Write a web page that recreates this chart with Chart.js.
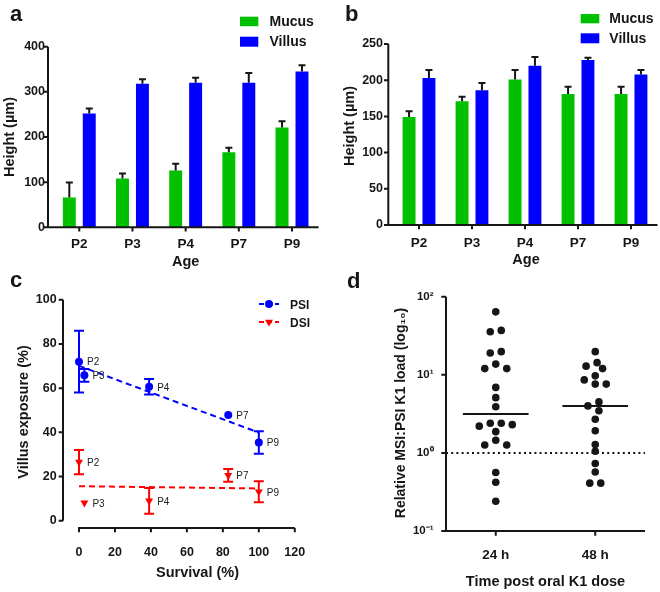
<!DOCTYPE html>
<html><head><meta charset="utf-8">
<script src="https://cdn.jsdelivr.net/npm/chart.js@4.4.1/dist/chart.umd.min.js"></script>
<style>
html,body{margin:0;padding:0;background:#fff;}
#wrap{position:relative;width:660px;height:592px;background:#fff;overflow:hidden;}
canvas{position:absolute;}
</style></head><body>
<div id="wrap">
<canvas id="ca" width="330" height="270" style="left:0;top:0"></canvas>
<canvas id="cb" width="330" height="270" style="left:330px;top:0"></canvas>
<canvas id="cc" width="330" height="322" style="left:0;top:270px"></canvas>
<canvas id="cd" width="330" height="322" style="left:330px;top:270px"></canvas>
</div>
<script>
// ---------------- data ----------------
const ages = ['P2','P3','P4','P7','P9'];
// panel a
const aMucus = [66,108,126,166,221];
const aMucusErr = [33,11,15,10,14];
const aVillus = [252,318,320,320,345];
const aVillusErr = [11,10,11,22,14];
// panel b
const bMucus = [149,171,201,181,181];
const bMucusErr = [8,6,13,10,10];
const bVillus = [203,186,220,228,208];
const bVillusErr = [11,10,12,3,6];
// panel c
const survival = [0,3,39,83,100];
const psiExposure = [72,65.8,60.6,47.8,35.4];
const psiErr = [14,2.9,3.5,0,5.1];
const dsiExposure = [26.5,8.1,9,20.5,13.1];
const dsiErr = [5.5,0,5.8,2.9,4.75];
const fitX = [0,100];
const psiFit = [70.1,39.9];
const dsiFit = [15.6,14.6];
// panel d
const timepoints = ['24 h','48 h'];
const load24 = [64,37,35.6,19.8,19,13.7,12,12,6.9,5.1,3.9,2.4,2.4,2.3,2.2,1.87,1.45,1.26,1.26,0.56,0.42,0.24];
const load48 = [19.8,14.3,12.9,12,9.7,8.6,7.6,7.6,4.5,4.0,3.47,2.7,1.92,1.28,1.05,0.73,0.57,0.41,0.41];
const refLoad = 1;
const yTicksD = [0.1,1,10,100];

// ---------------- styling ----------------
const FF = '"Liberation Sans", Arial, Helvetica, sans-serif';
const GREEN = '#00c000', BLUE = '#0000ff', RED = '#ff0000', INK = '#161616';
Chart.defaults.font.family = FF;
Chart.defaults.color = INK;
Chart.defaults.animation = false;

function bold(px){ return {family:FF, size:px, weight:'bold'}; }

// ---------------- plugins ----------------
const gpAxes = {
  id:'gpAxes',
  afterDraw(chart, args, o){
    if(!o || !o.on) return;
    const {ctx, chartArea:a} = chart;
    const xs = chart.scales.x, ys = chart.scales.y;
    const lx = a.left - (o.yGap||0);
    const by = a.bottom + (o.xGap||0);
    const t = o.tick||4;
    ctx.save();
    ctx.strokeStyle = INK; ctx.lineWidth = 2; ctx.lineCap = 'butt';
    ctx.beginPath();
    ctx.moveTo(lx, a.top); ctx.lineTo(lx, o.xGap ? a.bottom : by + 1);
    ctx.moveTo(o.xGap ? a.left - 1 : lx - 1, by); ctx.lineTo(a.right, by);
    ys.ticks.forEach(tk => { const p = ys.getPixelForValue(tk.value); ctx.moveTo(lx - t, p); ctx.lineTo(lx, p); });
    xs.ticks.forEach((tk,i) => { const p = xs.getPixelForTick(i); ctx.moveTo(p, by); ctx.lineTo(p, by + t); });
    ctx.stroke();
    ctx.restore();
  }
};

function drawErrors(chart, behind){
  const ctx = chart.ctx;
  chart.data.datasets.forEach((ds,i) => {
    if(!ds.errors || !!ds.errorBehind !== behind) return;
    const meta = chart.getDatasetMeta(i);
    const ys = chart.scales[meta.yAxisID];
    ctx.save();
    ctx.strokeStyle = ds.errorColor || INK;
    ctx.lineWidth = 2; ctx.lineCap = 'butt';
    meta.data.forEach((el,j) => {
      const e = ds.errors[j]; if(!e) return;
      const d = ds.data[j]; const v = (typeof d === 'object') ? d.y : d;
      const x = el.x, cw = ds.capWidth/2;
      const top = ys.getPixelForValue(v + e);
      const bot = ds.errorUpOnly ? el.y : ys.getPixelForValue(v - e);
      ctx.beginPath();
      ctx.moveTo(x, bot); ctx.lineTo(x, top);
      ctx.moveTo(x - cw, top); ctx.lineTo(x + cw, top);
      if(!ds.errorUpOnly){ ctx.moveTo(x - cw, bot); ctx.lineTo(x + cw, bot); }
      ctx.stroke();
    });
    ctx.restore();
  });
}
const errorBars = {
  id:'errorBars',
  beforeDatasetsDraw(chart){ drawErrors(chart, true); },
  afterDatasetsDraw(chart){ drawErrors(chart, false); }
};

const pointLabels = {
  id:'pointLabels',
  afterDatasetsDraw(chart){
    const ctx = chart.ctx;
    chart.data.datasets.forEach((ds,i) => {
      if(!ds.pointLabels) return;
      const meta = chart.getDatasetMeta(i);
      ctx.save();
      ctx.font = '10px ' + FF; ctx.fillStyle = '#222';
      ctx.textAlign = 'left'; ctx.textBaseline = 'middle';
      meta.data.forEach((el,j) => ctx.fillText(ds.pointLabels[j], el.x + 8, el.y + 1));
      ctx.restore();
    });
  }
};

function marker(ctx, kind, x, y, r, color){
  ctx.save(); ctx.fillStyle = color; ctx.beginPath();
  if(kind === 'circle'){ ctx.arc(x, y, r, 0, Math.PI*2); }
  else { const s = Math.sin(Math.PI/3)*r; ctx.moveTo(x, y + r); ctx.lineTo(x - s, y - r/2); ctx.lineTo(x + s, y - r/2); ctx.closePath(); }
  ctx.fill(); ctx.restore();
}

const deco = {
  id:'deco',
  afterDraw(chart, args, o){
    if(!o || !o.items) return;
    const ctx = chart.ctx;
    o.items.forEach(it => {
      ctx.save();
      if(it.t === 'text'){
        ctx.font = (it.weight||'bold') + ' ' + it.size + 'px ' + FF;
        ctx.fillStyle = it.color || INK;
        ctx.textAlign = it.align || 'left';
        ctx.textBaseline = it.baseline || 'alphabetic';
        ctx.translate(it.x, it.y);
        if(it.rot) ctx.rotate(it.rot);
        ctx.fillText(it.text, 0, 0);
      } else if(it.t === 'rect'){
        ctx.fillStyle = it.color; ctx.fillRect(it.x, it.y, it.w, it.h);
      } else if(it.t === 'legline'){
        ctx.strokeStyle = it.color; ctx.lineWidth = 2; ctx.setLineDash(it.dash || []);
        ctx.beginPath(); ctx.moveTo(it.x1, it.y); ctx.lineTo(it.x2, it.y); ctx.stroke();
        marker(ctx, it.marker, (it.x1 + it.x2)/2, it.y, it.r, it.color);
      }
      ctx.restore();
    });
  }
};
Chart.register(gpAxes, errorBars, pointLabels, deco);

function fixW(w){ return s => { s.width = w; }; }
function fixH(h){ return s => { s.height = h; }; }

// ---------------- panels a & b ----------------
function barPanel(id, mucus, mucusErr, villus, villusErr, ymax, step, L){
  return new Chart(document.getElementById(id), {
    type:'bar',
    data:{ labels: ages, datasets:[
      {label:'Mucus', data:mucus, backgroundColor:GREEN, errors:mucusErr, errorUpOnly:true, capWidth:7},
      {label:'Villus', data:villus, backgroundColor:BLUE, errors:villusErr, errorUpOnly:true, capWidth:7}
    ]},
    options:{
      responsive:false, devicePixelRatio:1,
      layout:{padding:{left:0, top:L.top, right:L.right, bottom:0}},
      datasets:{bar:{barPercentage:0.65, categoryPercentage:0.75}},
      plugins:{
        legend:{display:false}, tooltip:{enabled:false},
        gpAxes:{on:true, yGap:L.gap, xGap:0, tick:4.3},
        deco:{items:L.deco}
      },
      scales:{
        x:{ grid:{display:false, drawTicks:false}, border:{display:false},
            ticks:{font:bold(13.5), padding:L.xPad, color:INK}, afterFit:fixH(L.xH) },
        y:{ min:0, max:ymax, grid:{display:false, drawTicks:false}, border:{display:false},
            ticks:{stepSize:step, font:bold(12.5), padding:L.yPad, color:INK}, afterFit:fixW(L.yW) }
      }
    }
  });
}

barPanel('ca', aMucus, aMucusErr, aVillus, aVillusErr, 400, 100, {
  top:46.7, right:11.4, gap:4.7, yW:52.7, xH:42.7, xPad:9.3, yPad:7.7,
  deco:[
    {t:'text', text:'a', x:10, y:20.5, size:22},
    {t:'rect', x:240, y:16.7, w:18.3, h:9.5, color:GREEN},
    {t:'text', text:'Mucus', x:269.5, y:25.7, size:14},
    {t:'rect', x:240, y:36.7, w:18.3, h:10, color:BLUE},
    {t:'text', text:'Villus', x:269.5, y:45.7, size:14},
    {t:'text', text:'Height (µm)', x:9.7, y:137, size:14.5, align:'center', baseline:'middle', rot:-Math.PI/2},
    {t:'text', text:'Age', x:185.6, y:261.5, size:14.5, align:'center', baseline:'middle'}
  ]
});

barPanel('cb', bMucus, bMucusErr, bVillus, bVillusErr, 250, 50, {
  top:44, right:2.5, gap:4.2, yW:62.5, xH:45, xPad:10.6, yPad:9.5,
  deco:[
    {t:'text', text:'b', x:15, y:20.7, size:22},
    {t:'rect', x:250.7, y:14, w:18.6, h:9.3, color:GREEN},
    {t:'text', text:'Mucus', x:279.3, y:22.7, size:14},
    {t:'rect', x:250.7, y:33.3, w:18.6, h:10, color:BLUE},
    {t:'text', text:'Villus', x:279.3, y:42.7, size:14},
    {t:'text', text:'Height (µm)', x:20, y:126, size:14.5, align:'center', baseline:'middle', rot:-Math.PI/2},
    {t:'text', text:'Age', x:196, y:259.7, size:14.5, align:'center', baseline:'middle'}
  ]
});

// ---------------- panel c ----------------
new Chart(document.getElementById('cc'), {
  type:'scatter',
  data:{ datasets:[
    {label:'PSI', data:survival.map((x,i)=>({x, y:psiExposure[i]})), backgroundColor:BLUE, borderColor:BLUE,
     pointStyle:'circle', pointRadius:4, pointBorderWidth:0, errors:psiErr, errorColor:BLUE, errorBehind:true, capWidth:10, pointLabels:ages, clip:false},
    {label:'DSI', data:survival.map((x,i)=>({x, y:dsiExposure[i]})), backgroundColor:RED, borderColor:RED,
     pointStyle:'triangle', rotation:180, pointRadius:4.6, pointBorderWidth:0, errors:dsiErr, errorColor:RED, errorBehind:true, capWidth:10, pointLabels:ages, clip:false},
    {type:'line', label:'PSI fit', data:fitX.map((x,i)=>({x, y:psiFit[i]})), borderColor:BLUE, borderWidth:2, borderDash:[6,4], pointRadius:0, clip:false},
    {type:'line', label:'DSI fit', data:fitX.map((x,i)=>({x, y:dsiFit[i]})), borderColor:RED, borderWidth:2, borderDash:[6,4], pointRadius:0, clip:false}
  ]},
  options:{
    responsive:false, devicePixelRatio:1,
    layout:{padding:{left:0, top:29, right:14, bottom:0}},
    plugins:{
      legend:{display:false}, tooltip:{enabled:false},
      gpAxes:{on:true, yGap:16, xGap:7.3, tick:4.3},
      deco:{items:[
        {t:'text', text:'c', x:10, y:17, size:22},
        {t:'legline', x1:259, x2:279, y:34, color:BLUE, dash:[5,3], marker:'circle', r:4},
        {t:'text', text:'PSI', x:290, y:38.5, size:12},
        {t:'legline', x1:259, x2:279, y:52, color:RED, dash:[5,3], marker:'triangle', r:4.6},
        {t:'text', text:'DSI', x:290, y:56.5, size:12},
        {t:'text', text:'Villus exposure (%)', x:24, y:142, size:14.5, align:'center', baseline:'middle', rot:-Math.PI/2},
        {t:'text', text:'Survival (%)', x:197.5, y:303, size:14.5, align:'center', baseline:'middle'}
      ]}
    },
    scales:{
      x:{ type:'linear', min:0, max:120, grid:{display:false, drawTicks:false}, border:{display:false},
          ticks:{stepSize:20, font:bold(12.5), padding:24.8, color:INK}, afterFit:fixH(71.3) },
      y:{ min:0, max:100, grid:{display:false, drawTicks:false}, border:{display:false},
          ticks:{stepSize:20, font:bold(12.5), padding:22.3, color:INK}, afterFit:fixW(79) }
    }
  }
});

// ---------------- panel d ----------------
function median(arr){ const s=[...arr].sort((a,b)=>a-b); const n=s.length; return n%2 ? s[(n-1)/2] : (s[n/2-1]+s[n/2])/2; }
// beeswarm placement (pixel-space collision avoidance), converted to axis units
const DECADE_PX = 78.1, UNIT_PX = 99.5, MIN_DIST = 8, HALF_STEP = 5.5, ROW_TOL = 5;
function swarm(values){
  const items = values.map(v => ({v, y:Math.log10(v)*DECADE_PX, x:0}));
  const order = [...items].sort((a,b) => b.y - a.y);
  const placed = [];
  order.forEach(p => {
    for(let k=0;k<60;k++){
      const off = (k%2===1 ? -1 : 1) * Math.ceil(k/2) * HALF_STEP;
      if(!placed.some(q => Math.hypot(q.x-off, q.y-p.y) < MIN_DIST)){ p.x = off; break; }
    }
    placed.push(p);
  });
  let row = [order[0]];
  const flush = () => { const m = row.reduce((s,q)=>s+q.x,0)/row.length; row.forEach(q => q.x -= m); };
  for(let i=1;i<order.length;i++){
    if(order[i-1].y - order[i].y < ROW_TOL) row.push(order[i]); else { flush(); row = [order[i]]; }
  }
  flush();
  return items.map(p => p.x / UNIT_PX);
}
const MED_HALF = 0.33;
const groups = [load24, load48];
const supMap = {'-':'⁻','0':'⁰','1':'¹','2':'²','3':'³'};
const sup = v => '10' + String(Math.round(Math.log10(v))).split('').map(c => supMap[c]).join('');

const dDatasets = [];
groups.forEach((vals, g) => {
  const jit = swarm(vals);
  dDatasets.push({label:timepoints[g], data:vals.map((v,i) => ({x:g+1+jit[i], y:v})),
    backgroundColor:INK, borderColor:INK, pointRadius:3.8, pointBorderWidth:0, clip:false});
  const m = median(vals);
  dDatasets.push({type:'line', label:timepoints[g]+' median', data:[{x:g+1-MED_HALF, y:m},{x:g+1+MED_HALF, y:m}],
    borderColor:INK, borderWidth:2, pointRadius:0, clip:false});
});
dDatasets.push({type:'line', label:'reference', data:[{x:0.5, y:refLoad},{x:2.5, y:refLoad}],
  borderColor:INK, borderWidth:2, borderDash:[2,3.2], pointRadius:0, clip:false});

new Chart(document.getElementById('cd'), {
  type:'scatter',
  data:{ datasets:dDatasets },
  options:{
    responsive:false, devicePixelRatio:1,
    layout:{padding:{left:0, top:26.7, right:15, bottom:0}},
    plugins:{
      legend:{display:false}, tooltip:{enabled:false},
      gpAxes:{on:true, yGap:0, xGap:0, tick:4.7},
      deco:{items:[
        {t:'text', text:'d', x:17, y:18, size:22},
        {t:'text', text:'Relative MSI:PSI K1 load (log₁₀)', x:71, y:143, size:14, align:'center', baseline:'middle', rot:-Math.PI/2},
        {t:'text', text:'Time post oral K1 dose', x:215.5, y:312, size:14.5, align:'center', baseline:'middle'}
      ]}
    },
    scales:{
      x:{ type:'linear', min:0.5, max:2.5, grid:{display:false, drawTicks:false}, border:{display:false},
          afterBuildTicks: s => { s.ticks = timepoints.map((_,i) => ({value:i+1})); },
          ticks:{font:bold(13.5), padding:15.7, color:INK, callback:v => timepoints[Math.round(v)-1]},
          afterFit:fixH(61) },
      y:{ type:'logarithmic', min:0.1, max:100, grid:{display:false, drawTicks:false}, border:{display:false},
          afterBuildTicks: s => { s.ticks = yTicksD.map(v => ({value:v, major:true})); },
          ticks:{font:bold(11.5), padding:12.5, color:INK, callback:v => sup(v)},
          afterFit:fixW(116) }
    }
  }
});
</script>
</body></html>
